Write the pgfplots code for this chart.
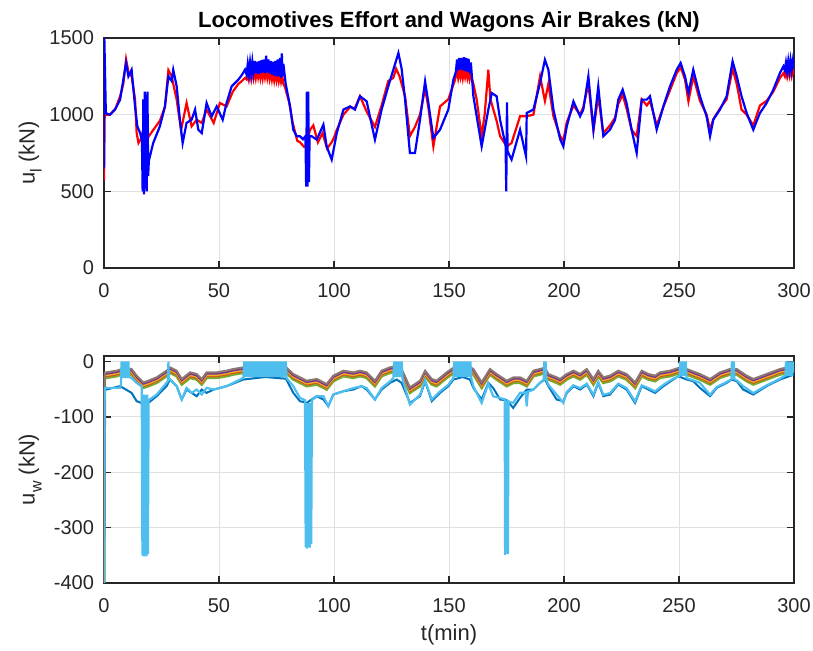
\documentclass[border=0pt]{standalone}
\usepackage{fontspec}
\setmainfont{Liberation Sans}
\usepackage{pgfplots}
\pgfplotsset{compat=1.18}
\usepackage{pgfplotstable}

\definecolor{mblue}{RGB}{0,114,189}
\definecolor{morange}{RGB}{217,83,25}
\definecolor{myellow}{RGB}{237,177,32}
\definecolor{mpurple}{RGB}{126,47,142}
\definecolor{mgreen}{RGB}{119,172,48}
\definecolor{mcyan}{RGB}{77,190,238}
\definecolor{mgray}{RGB}{140,120,115}
\definecolor{axgray}{RGB}{38,38,38}

% locomotive effort, red
\pgfplotstableread[row sep=\\]{t u\\
0 570\\ 0.3 1000\\ 2.6 1000\\ 5 1040\\ 7 1120\\ 8.4 1200\\ 9.6 1360\\ 10.6 1280\\ 12 1250\\ 13.5 1100\\
14.2 880\\ 15 815\\ 16 840\\ 17.1 900\\ 18.5 830\\ 19.5 860\\ 21.4 900\\ 24.3 960\\ 26.5 1050\\ 28 1290\\
29.4 1250\\ 31.6 1098\\ 33.5 900\\ 35.9 1076\\ 38.1 924\\ 40.3 967\\ 42.5 946\\ 44.6 1033\\ 47.7 946\\ 50.4 1076\\
53.3 1054\\ 56 1150\\ 58.4 1200\\ 60 1220\\ 61.3 1240\\
62 1230\\ 62.5 1280\\ 63 1235\\ 63.5 1285\\ 64 1235\\ 64.5 1285\\ 65 1240\\ 65.5 1290\\ 66 1240\\ 66.5 1290\\
67 1245\\ 67.5 1290\\ 68 1240\\ 68.5 1290\\ 69 1240\\ 69.5 1295\\ 70 1245\\ 70.5 1290\\ 71 1240\\ 71.5 1285\\
72 1235\\ 72.5 1280\\ 73 1230\\ 73.5 1280\\ 74 1225\\ 74.5 1275\\ 75 1225\\ 75.5 1270\\ 76 1220\\ 76.5 1265\\
77 1215\\ 77.5 1250\\ 78 1200\\ 78.7 1180\\
80.5 1080\\ 82 950\\ 84 830\\ 85.2 820\\ 87 790\\ 88.1 800\\ 89.5 900\\ 91 930\\ 93 820\\ 95 880\\
97 780\\ 99 820\\ 100 850\\ 101.2 900\\ 104.1 1000\\ 107 1050\\ 109 1040\\ 111.3 1120\\ 114.2 1020\\ 117.8 920\\
120.7 1060\\ 123.6 1220\\ 125.8 1240\\ 127 1300\\ 128.5 1250\\ 130.9 1120\\ 133 860\\ 135.2 920\\ 137.4 1000\\ 139.6 1170\\
141 1050\\ 143.2 793\\ 146.1 1054\\ 149.7 1100\\ 152 1200\\
152.5 1220\\ 153 1250\\ 153.5 1290\\ 154 1240\\ 154.5 1285\\ 155 1245\\ 155.5 1290\\ 156 1240\\ 156.5 1290\\ 157 1245\\
157.5 1285\\ 158 1240\\ 158.5 1280\\ 159 1230\\ 159.5 1260\\
160.6 1200\\ 162 1100\\ 164.2 860\\ 165.5 1000\\ 167.1 1293\\ 168 1100\\ 170.7 960\\ 172.2 860\\ 175.1 793\\ 177.2 815\\
180.9 990\\ 183.8 990\\ 186.7 1000\\ 189.6 1250\\ 191.7 1090\\ 193.2 1200\\ 195.4 990\\ 198.3 860\\ 199.7 830\\ 201.2 950\\
204.1 1060\\ 207 1000\\ 208.4 1050\\ 210.6 1200\\ 212.8 900\\ 214.9 1120\\ 217.1 880\\ 220 930\\ 222.2 980\\ 223.6 1070\\
225.5 1130\\ 227.2 1040\\ 229.4 900\\ 231.6 860\\ 233.8 1100\\ 236 1060\\ 237.4 1090\\ 240.3 930\\ 243.2 1050\\ 246.1 1160\\
249 1270\\ 250.7 1310\\ 252.6 1230\\ 254.1 1087\\ 256.2 1250\\ 259.1 1090\\ 262 1000\\ 263.5 900\\ 264.9 970\\ 267.8 1040\\
270.7 1100\\ 273.3 1300\\ 275.1 1200\\ 277.2 1033\\ 279.4 1000\\ 282.3 930\\ 285.2 1060\\ 288.1 1090\\ 291 1150\\ 293.9 1240\\
295.4 1270\\ 296 1250\\ 296.5 1290\\ 297 1250\\ 297.5 1295\\ 298 1255\\ 298.5 1300\\ 299 1255\\ 299.5 1295\\ 300 1260\\
}\redtab

% locomotive effort, blue
\pgfplotstableread[row sep=\\]{t u\\
0 650\\ 0.15 1500\\ 0.8 1010\\ 2.6 1000\\ 4.8 1033\\ 7 1098\\ 8.4 1228\\ 9.6 1337\\ 10.6 1250\\ 12 1293\\
13.5 1054\\ 14.5 924\\ 15.7 880\\ 16.5 830\\ 16.8 500\\ 17.1 1100\\ 17.4 480\\ 17.7 1150\\ 18 520\\ 18.3 1130\\
18.6 500\\ 18.9 1150\\ 19.2 600\\ 19.5 700\\ 21.4 815\\ 24.3 924\\ 26.5 1054\\ 28 1250\\ 29.4 1220\\ 30.1 1293\\
31.6 1185\\ 33 967\\ 34.2 815\\ 35.9 946\\ 38.1 967\\ 39.6 1033\\ 41 902\\ 42.5 880\\ 44.6 1076\\ 46.8 989\\
49 1054\\ 51.6 967\\ 53.3 1076\\ 55.5 1185\\ 58.4 1228\\ 60 1260\\ 61.3 1293\\
62 1260\\ 62.5 1330\\ 63 1265\\ 63.5 1340\\ 64 1270\\ 64.5 1345\\ 65 1275\\ 65.5 1350\\ 66 1270\\ 66.5 1345\\
67 1265\\ 67.5 1350\\ 68 1270\\ 68.5 1355\\ 69 1275\\ 69.5 1360\\ 70 1270\\ 70.5 1385\\ 71 1275\\ 71.5 1360\\
72 1270\\ 72.5 1350\\ 73 1260\\ 73.5 1345\\ 74 1255\\ 74.5 1350\\ 75 1250\\ 75.5 1360\\ 76 1250\\ 76.5 1370\\
77 1240\\ 77.3 1400\\ 77.7 1250\\ 78 1330\\
79 1200\\ 80.9 1054\\ 82.3 902\\ 83.8 859\\ 85.2 859\\ 86.5 840\\ 87.6 860\\ 87.9 530\\ 88.2 1150\\ 88.5 530\\
88.8 1150\\ 89.1 560\\ 89.4 860\\ 90.3 859\\ 92.5 837\\ 95.4 935\\ 96.8 793\\ 99 707\\ 101.2 880\\ 104.1 1033\\
107 1054\\ 109.1 1033\\ 111.3 1120\\ 114.2 1087\\ 117.8 837\\ 120.7 1033\\ 123.6 1185\\ 125.8 1293\\ 128 1402\\ 129.4 1300\\
130.9 1098\\ 133 750\\ 135.2 750\\ 137.4 967\\ 139.6 1217\\ 141 1080\\ 143.2 848\\ 146.1 902\\ 149.7 1033\\ 151.9 1228\\
153 1280\\ 153.5 1360\\ 154 1290\\ 154.5 1370\\ 155 1295\\ 155.5 1370\\ 156 1290\\ 156.5 1375\\ 157 1285\\ 157.5 1370\\
158 1280\\ 158.5 1365\\ 159 1270\\ 159.5 1340\\
160.6 1120\\ 164.2 793\\ 167.1 1033\\ 168.6 1141\\ 170.7 1120\\ 172.2 967\\ 174.6 800\\ 174.9 500\\ 175.2 1080\\ 175.5 760\\
177.2 707\\ 180.9 902\\ 183.5 728\\ 183.8 1011\\ 186.7 1033\\ 189.6 1207\\ 191.7 1358\\ 193.2 1293\\ 195.4 1033\\ 198.3 840\\
199.7 793\\ 201.2 924\\ 204.1 1087\\ 207 989\\ 208.4 1033\\ 210.6 1250\\ 212.8 902\\ 214.9 1185\\ 217.1 859\\ 220 902\\
222.2 967\\ 223.6 1098\\ 225.5 1163\\ 227.2 1076\\ 229.4 902\\ 231.6 750\\ 233.8 1098\\ 236 1098\\ 237.4 1120\\ 240.3 902\\
243.2 1054\\ 246.1 1185\\ 249 1293\\ 250.7 1337\\ 252.6 1250\\ 254.1 1141\\ 256.2 1293\\ 259.1 1120\\ 262 989\\ 263.5 859\\
264.9 967\\ 267.8 1033\\ 270.7 1120\\ 273.3 1348\\ 275.1 1250\\ 277.2 1120\\ 279.4 1011\\ 282.3 902\\ 285.2 1011\\ 288.1 1076\\
291 1163\\ 293.9 1272\\ 295.4 1315\\ 296 1290\\ 296.5 1340\\ 297 1285\\ 297.5 1350\\ 298 1290\\ 298.5 1355\\ 299 1290\\
299.5 1350\\ 300 1300\\
}\bluetab

% wagon air brakes, upper group of wagons
\pgfplotstableread[row sep=\\]{t G Pu Ye Or Gr\\
0 -400 -400 -400 -400 -400\\
0.4 -20 -22.5 -25 -27 -30\\
1.2 -19.5 -22 -24.5 -26.5 -29.5\\
5.5 -16.5 -19 -21.5 -23.5 -26.5\\
7.7 -13.5 -16 -18.5 -20.5 -23.5\\
9.9 -13 -15.5 -18 -20 -23\\
12 -13.5 -16 -18.5 -20.5 -23.5\\
14.2 -25.5 -28 -30.5 -32.5 -35.5\\
17.1 -37.6 -40.1 -42.6 -44.6 -47.6\\
19.3 -34.6 -37.1 -39.6 -41.6 -44.6\\
22.9 -28.5 -31 -33.5 -35.5 -38.5\\
27.2 -16.5 -19 -21.5 -23.5 -26.5\\
28.7 -10.5 -13 -15.5 -17.5 -20.5\\
31.6 -16.5 -19 -21.5 -23.5 -26.5\\
33.8 -31.5 -34 -36.5 -38.5 -41.5\\
37.4 -19.5 -22 -24.5 -26.5 -29.5\\
40.3 -22.5 -25 -27.5 -29.5 -32.5\\
42.5 -31.5 -34 -36.5 -38.5 -41.5\\
44.6 -19.5 -22 -24.5 -26.5 -29.5\\
49 -19.5 -22 -24.5 -26.5 -29.5\\
53.3 -16.5 -19 -21.5 -23.5 -26.5\\
56.2 -13.5 -16 -18.5 -20.5 -23.5\\
60.6 -10.5 -13 -15.5 -17.5 -20.5\\
65 -8 -10.5 -13 -15 -18\\
70 -6 -8.5 -11 -13 -16\\
75 -7 -9.5 -12 -14 -17\\
79.1 -10 -12.5 -15 -17 -20\\
82.3 -22.5 -25 -27.5 -29.5 -32.5\\
85.2 -28.5 -31 -33.5 -35.5 -38.5\\
88.1 -34.6 -37.1 -39.6 -41.6 -44.6\\
92.5 -31.5 -34 -36.5 -38.5 -41.5\\
96.8 -40.5 -43 -45.5 -47.5 -50.5\\
99.7 -25.5 -28 -30.5 -32.5 -35.5\\
104.1 -16.5 -19 -21.5 -23.5 -26.5\\
108.4 -19.5 -22 -24.5 -26.5 -29.5\\
111.3 -16.5 -19 -21.5 -23.5 -26.5\\
114.2 -19.5 -22 -24.5 -26.5 -29.5\\
117.8 -34.6 -37.1 -39.6 -41.6 -44.6\\
120.7 -16.5 -19 -21.5 -23.5 -26.5\\
124.3 -10.5 -13 -15.5 -17.5 -20.5\\
127 -8 -10.5 -13 -15 -18\\
129.4 -13.5 -16 -18.5 -20.5 -23.5\\
133 -46.6 -49.1 -51.6 -53.6 -56.6\\
137.4 -34.6 -37.1 -39.6 -41.6 -44.6\\
139.6 -16.5 -19 -21.5 -23.5 -26.5\\
142.5 -31.5 -34 -36.5 -38.5 -41.5\\
144.6 -34.6 -37.1 -39.6 -41.6 -44.6\\
149 -19.5 -22 -24.5 -26.5 -29.5\\
152 -11 -13.5 -16 -18 -21\\
156 -8 -10.5 -13 -15 -18\\
159.5 -11 -13.5 -16 -18 -21\\
160.6 -13.5 -16 -18.5 -20.5 -23.5\\
164.2 -37.6 -40.1 -42.6 -44.6 -47.6\\
167.8 -13.5 -16 -18.5 -20.5 -23.5\\
170.7 -22.5 -25 -27.5 -29.5 -32.5\\
175.1 -34.6 -37.1 -39.6 -41.6 -44.6\\
178 -28.5 -31 -33.5 -35.5 -38.5\\
180.9 -28.5 -31 -33.5 -35.5 -38.5\\
183.8 -34.6 -37.1 -39.6 -41.6 -44.6\\
186.7 -16.5 -19 -21.5 -23.5 -26.5\\
189.6 -13.5 -16 -18.5 -20.5 -23.5\\
191.7 -11 -13.5 -16 -18 -21\\
193.2 -22.5 -25 -27.5 -29.5 -32.5\\
196.8 -28.5 -31 -33.5 -35.5 -38.5\\
198.3 -31.5 -34 -36.5 -38.5 -41.5\\
201.2 -22.5 -25 -27.5 -29.5 -32.5\\
204.1 -16.5 -19 -21.5 -23.5 -26.5\\
207 -22.5 -25 -27.5 -29.5 -32.5\\
209.9 -13.5 -16 -18.5 -20.5 -23.5\\
212.8 -31.5 -34 -36.5 -38.5 -41.5\\
214.9 -16.5 -19 -21.5 -23.5 -26.5\\
217.1 -28.5 -31 -33.5 -35.5 -38.5\\
220 -25.5 -28 -30.5 -32.5 -35.5\\
223.6 -16.5 -19 -21.5 -23.5 -26.5\\
227.2 -22.5 -25 -27.5 -29.5 -32.5\\
230.9 -37.6 -40.1 -42.6 -44.6 -47.6\\
233.8 -16.5 -19 -21.5 -23.5 -26.5\\
236.7 -22.5 -25 -27.5 -29.5 -32.5\\
239.6 -25.5 -28 -30.5 -32.5 -35.5\\
241.7 -19.5 -22 -24.5 -26.5 -29.5\\
246.1 -16.5 -19 -21.5 -23.5 -26.5\\
249.7 -11.7 -14.2 -16.7 -18.7 -21.7\\
253.3 -13.5 -16 -18.5 -20.5 -23.5\\
259.1 -22.5 -25 -27.5 -29.5 -32.5\\
263.5 -31.5 -34 -36.5 -38.5 -41.5\\
267.8 -19.5 -22 -24.5 -26.5 -29.5\\
272.2 -13.5 -16 -18.5 -20.5 -23.5\\
275.1 -13.5 -16 -18.5 -20.5 -23.5\\
279.4 -25.5 -28 -30.5 -32.5 -35.5\\
282.3 -31.5 -34 -36.5 -38.5 -41.5\\
288.1 -22.5 -25 -27.5 -29.5 -32.5\\
293.9 -13.5 -16 -18.5 -20.5 -23.5\\
300 -8 -10.5 -13 -15 -18\\
}\clustab

% wagon air brakes, dark blue wagon
\pgfplotstableread[row sep=\\]{t u\\
0 -400\\ 0.4 -50\\ 0.9 -50.6\\ 7 -44.5\\ 12 -56.6\\ 14.2 -71.6\\ 17 -76\\ 19.3 -74.7\\ 22.9 -62.6\\ 27.2 -44.5\\
28.7 -32.5\\ 31.6 -44.5\\ 33.8 -68.6\\ 35.9 -50.6\\ 38.1 -56.6\\ 40.3 -62.6\\ 42.5 -50.6\\ 44.6 -56.6\\ 47.7 -50.6\\ 53.3 -44.5\\
60.6 -32.5\\ 70 -28\\ 79.1 -31\\ 82.3 -56.6\\ 85.2 -71.6\\ 88.1 -74.7\\ 92.5 -62.6\\ 95.4 -68.6\\ 97.5 -80.7\\ 99.7 -59.6\\
104.1 -53.6\\ 108.4 -50.6\\ 112 -44.5\\ 114.2 -50.6\\ 117.8 -68.6\\ 120.7 -50.6\\ 124.3 -38.6\\ 127.3 -32.5\\ 129.4 -38.6\\ 133 -74.7\\
137.4 -62.6\\ 139.6 -35.5\\ 142.5 -71.6\\ 146.1 -56.6\\ 149.7 -44.5\\ 151.9 -32.5\\ 156 -28\\ 159.1 -32.5\\ 160.6 -47.6\\ 164.2 -68.6\\
167.1 -38.6\\ 169.2 -47.6\\ 172.2 -68.6\\ 175.1 -70\\ 177.9 -83.7\\ 180.9 -65.6\\ 183.8 -50.6\\ 186.7 -50.6\\ 189.6 -38.6\\ 191.7 -32\\
193.2 -44.5\\ 196.8 -68.6\\ 199.7 -71.6\\ 201.2 -56.6\\ 204.1 -44.5\\ 207 -50.6\\ 209.9 -41.6\\ 212.8 -62.6\\ 214.9 -38.6\\ 217.1 -62.6\\
220 -59.6\\ 223.6 -41.6\\ 227.2 -50.6\\ 230.9 -74.7\\ 233.8 -44.5\\ 236.7 -50.6\\ 239.6 -56.6\\ 243.2 -44.5\\ 247.5 -32.5\\ 249.7 -26.5\\
253.3 -32.5\\ 256.2 -35.5\\ 259.1 -47.6\\ 263.5 -62.6\\ 266.4 -47.6\\ 270.7 -38.6\\ 272.9 -32.5\\ 275.1 -35.5\\ 277.9 -50.6\\ 282.3 -59.6\\
288.1 -44.5\\ 293.9 -32.5\\ 300 -23.5\\
}\dbtab

% wagon air brakes, light blue wagon (releases and deep applications)
\pgfplotstableread[row sep=\\]{t u\\
0 -400\\ 0.3 -47.6\\ 6.96 -47.6\\ 7.4 -40\\ 7.6 0\\ 7.9 -30\\ 8.2 0\\ 8.5 -30\\ 8.8 0\\ 9.1 -30\\
9.4 0\\ 9.7 -30\\ 10 0\\ 10.3 -30\\ 10.6 0\\ 10.9 -28\\ 12 -29.5\\ 14.2 -38.6\\ 16.4 -45\\ 16.7 -350\\
17 -60\\ 17.3 -352\\ 17.6 -60\\ 17.9 -350\\ 18.2 -60\\ 18.5 -352\\ 18.8 -60\\ 19.1 -348\\ 19.4 -70\\ 22.9 -59.6\\
27.2 -38.6\\ 27.8 -35\\ 28 0\\ 28.2 -33\\ 28.7 -32.5\\ 31.6 -44.5\\ 33.8 -68.6\\ 35.9 -47.6\\ 38.1 -56.6\\ 40.3 -50.6\\
42.5 -59.6\\ 44.6 -47.6\\ 47.7 -50.6\\ 53.3 -44.5\\ 60.6 -29.5\\
61 0\\ 61.5 -28\\ 62 0\\ 62.5 -28\\ 63 0\\ 63.5 -28\\ 64 0\\ 64.5 -28\\ 65 0\\ 65.5 -28\\
66 0\\ 66.5 -28\\ 67 0\\ 67.5 -28\\ 68 0\\ 68.5 -28\\ 69 0\\ 69.5 -28\\ 70 0\\ 70.5 -28\\
71 0\\ 71.5 -28\\ 72 0\\ 72.5 -28\\ 73 0\\ 73.5 -28\\ 74 0\\ 74.5 -28\\ 75 0\\ 75.5 -28\\
76 0\\ 76.5 -28\\ 77 0\\ 77.5 -28\\ 78 0\\ 78.5 -28\\ 79 0\\ 79.4 -30\\
82.3 -44.5\\ 85.2 -65.6\\ 87.4 -70\\ 87.7 -335\\ 88 -75\\ 88.3 -338\\ 88.6 -75\\ 88.9 -335\\ 89.2 -75\\ 89.5 -336\\
89.8 -75\\ 90.1 -330\\ 90.4 -70\\ 92.5 -62.6\\ 95.4 -62.6\\ 97.5 -80.7\\ 99.7 -59.6\\ 104.1 -53.6\\ 108.4 -48\\ 112 -44.5\\
114.2 -48\\ 117.8 -68.6\\ 120.7 -48\\ 124.3 -36\\ 125.8 -30\\ 126.2 0\\ 126.6 -28\\ 127 0\\ 127.4 -28\\ 127.8 0\\
128.2 -28\\ 128.6 0\\ 129 -28\\ 129.4 0\\ 129.8 -32\\ 133 -77.7\\ 137.4 -60\\ 139.6 -34\\ 142.5 -68.6\\ 146.1 -54\\
149.7 -42\\ 151.9 -30\\ 152.3 0\\ 152.8 -28\\ 153.3 0\\ 153.8 -28\\ 154.3 0\\ 154.8 -28\\ 155.3 0\\ 155.8 -28\\
156.3 0\\ 156.8 -28\\ 157.3 0\\ 157.8 -28\\ 158.3 0\\ 158.8 -28\\ 159.3 0\\ 159.7 -30\\ 160.6 -45\\ 164.2 -74.7\\
167.1 -40\\ 169.2 -62.6\\ 172.2 -66\\ 174.2 -68\\ 174.4 -349\\ 174.7 -70\\ 175 -347\\ 175.3 -70\\ 175.6 -348\\ 175.9 -72\\
177.9 -74.7\\ 180.9 -56.6\\ 183.3 -56\\ 183.8 -80.7\\ 184.3 -55\\ 186.7 -50.6\\ 189.6 -38\\ 191.2 -33\\ 191.4 0\\ 191.7 -30\\
192 0\\ 192.3 -33\\ 193.2 -42\\ 196.8 -59.6\\ 199.7 -74.7\\ 201.2 -55\\ 204.1 -43\\ 207 -48\\ 209.9 -40\\ 212.8 -60\\
214.9 -37\\ 217.1 -60\\ 220 -57\\ 223.6 -40\\ 227.2 -48\\ 230.9 -72\\ 233.8 -43\\ 236.7 -48\\ 239.6 -54\\ 243.2 -42\\
247.5 -31\\ 250.2 -26\\ 250.5 0\\ 250.9 -26\\ 251.3 0\\ 251.7 -26\\ 252.1 0\\ 252.5 -26\\ 252.9 0\\ 253.3 -30\\
256.2 -34\\ 259.1 -38.6\\ 263.5 -60\\ 266.4 -46\\ 270.7 -37\\ 272.8 -32\\ 273 0\\ 273.4 -30\\ 273.8 0\\ 274.1 -32\\
275.1 -34\\ 277.9 -44.5\\ 282.3 -57\\ 288.1 -43\\ 293.9 -31\\ 296.3 -25\\ 296.5 0\\ 297 -26\\ 297.5 0\\ 298 -26\\
298.5 0\\ 299 -26\\ 299.5 0\\ 300 -20\\
}\lbtab

\pgfplotsset{mlab/.style={
  scale only axis, width=345pt,
  xmin=0, xmax=300, xtick={0,50,...,300},
  tick align=inside, xtick pos=both, ytick pos=both,
  major tick length=3.4pt,
  grid=major, major grid style={color=black!12, line width=0.5pt},
  axis line style={color=axgray, line width=0.6pt},
  tick style={color=axgray, line width=0.6pt},
  ticklabel style={font=\fontsize{10}{12}\selectfont, color=axgray},
  /pgf/number format/assume math mode=true,
  /pgf/number format/1000 sep={},
  xticklabel style={yshift=-4pt},
  yticklabel style={xshift=-1.5pt},
  label style={font=\fontsize{11}{13}\selectfont, color=axgray},
  ylabel style={at={(axis description cs:-0.107,0.5)}, anchor=center},
}}

\begin{document}
\begin{tikzpicture}
\useasboundingbox (-52pt,-191.5pt) rectangle (354.5pt,134pt);

\begin{axis}[mlab, at={(0pt,0pt)}, anchor=south west, height=115pt,
  ymin=0, ymax=1500, ytick={0,500,1000,1500},
  every axis title shift=0pt,
  title={Locomotives Effort and Wagons Air Brakes (kN)},
  title style={at={(axis description cs:0.5,1)}, anchor=base, yshift=5pt,
    font=\bfseries\fontsize{11}{13}\selectfont, color=black},
  ylabel={u\raisebox{-0.6ex}{\fontsize{8}{8}\selectfont l} (kN)}]
\addplot[red, line width=1.1pt] table {\redtab};
\addplot[blue, line width=1.1pt] table {\bluetab};
\end{axis}

\begin{axis}[mlab, at={(0pt,-157.5pt)}, anchor=south west, height=113.5pt,
  ymin=-400, ymax=10, ytick={-400,-300,...,0},
  xlabel={t(min)},
  xlabel style={at={(axis description cs:0.5,0)}, anchor=base, yshift=-29pt},
  ylabel={u\raisebox{-0.6ex}{\fontsize{8}{8}\selectfont w} (kN)}]
\addplot[mblue, line width=1pt] table {\dbtab};
\addplot[mgreen, line width=1.3pt] table[y=Gr] {\clustab};
\addplot[morange, line width=1pt] table[y=Or] {\clustab};
\addplot[myellow, line width=1pt] table[y=Ye] {\clustab};
\addplot[mpurple, line width=1pt] table[y=Pu] {\clustab};
\addplot[mgray, line width=1pt] table[y=G] {\clustab};
\addplot[mcyan, line width=1.1pt] table {\lbtab};
\end{axis}
\end{tikzpicture}
\end{document}
